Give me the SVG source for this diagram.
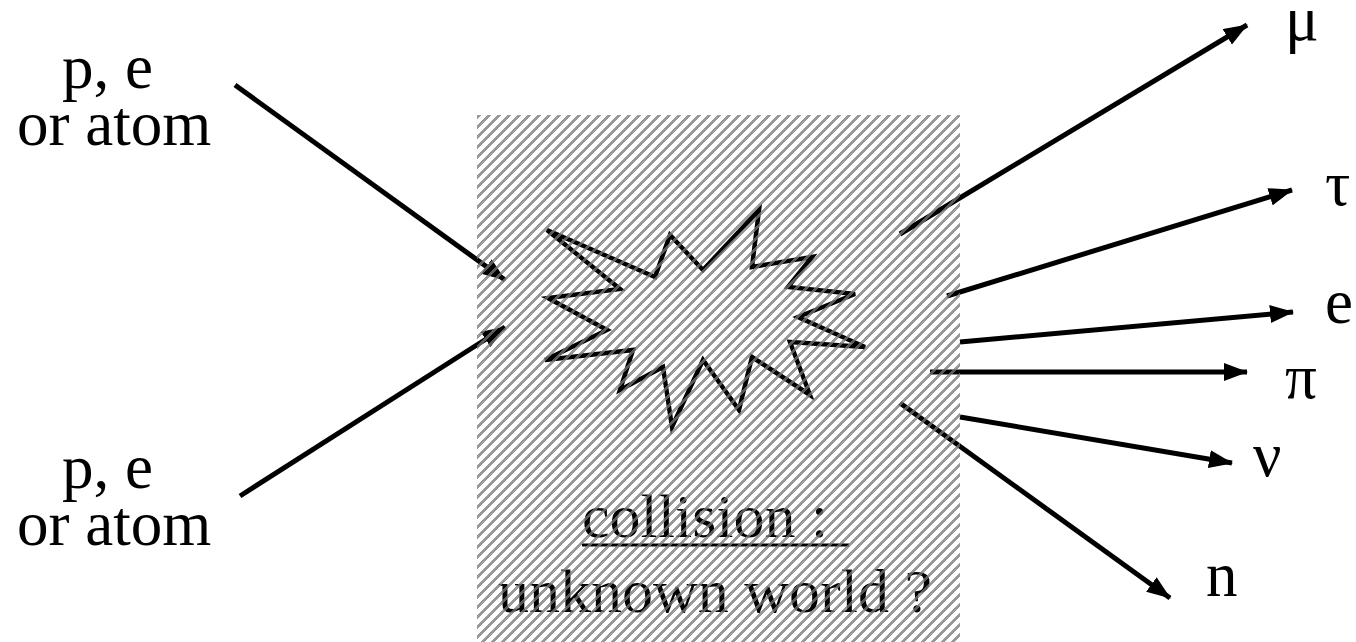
<svg xmlns="http://www.w3.org/2000/svg" width="1356" height="642" viewBox="0 0 1356 642">
  <style>
    .lbl { font-family: "Liberation Serif", "Times New Roman", serif; font-size: 63px; fill: #000; }
    .mid { font-family: "Liberation Serif", "Times New Roman", serif; font-size: 62px; fill: #000; }
    .conn { stroke: #000; stroke-width: 5; fill: none; marker-end: url(#arrow); }
  </style>
  <defs>
    <marker id="arrow" markerUnits="userSpaceOnUse" markerWidth="24" markerHeight="18" refX="23" refY="9" orient="auto" viewBox="0 0 24 18">
      <path d="M0,0 L24,9 L0,18 Z" fill="#000"/>
    </marker>
    <pattern id="hatch" patternUnits="userSpaceOnUse" x="477" y="115" width="10" height="10">
      <polygon points="0,0 4.5,0 0,4.5" fill="#777" fill-opacity="0.75" shape-rendering="crispEdges"/>
      <polygon points="10,0 10,4.5 4.5,10 0,10" fill="#777" fill-opacity="0.75" shape-rendering="crispEdges"/>
    </pattern>
  </defs>
  <rect width="1356" height="642" fill="#fff"/>

  <g id="collision">
    <polygon points="547,230 655,277 670,235 703,270 759,210 752,267 812,257 788,287 855,294 798,317 865,347 790,342 810,395 752,357 739,410 703,360 672,427 663,367 620,390 633,350 545,360 607,330 548,298 620,289" fill="none" stroke="#000" stroke-width="4.5" stroke-linejoin="miter"/>
    <text class="mid" x="582" y="537">collision :</text>
    <line x1="582" y1="545" x2="849" y2="545" stroke="#000" stroke-width="3"/>
    <text class="mid" x="498" y="612">unknown world ?</text>
  </g>

  <g id="connectors">
    <line class="conn" x1="235" y1="85" x2="505" y2="280"/>
    <line class="conn" x1="240" y1="496" x2="505" y2="327"/>
    <line class="conn" x1="900" y1="234" x2="1247" y2="25"/>
    <line class="conn" x1="947" y1="296" x2="1292" y2="190"/>
    <line class="conn" x1="960" y1="342" x2="1293" y2="312"/>
    <line class="conn" x1="930" y1="372" x2="1247" y2="372"/>
    <line class="conn" x1="960" y1="417" x2="1232" y2="463"/>
    <line class="conn" x1="900" y1="403" x2="1170" y2="598"/>
  </g>

  <g id="hatch-box">
    <rect x="477" y="115" width="483" height="527" fill="url(#hatch)"/>
  </g>

  <g id="source-top">
    <text class="lbl" x="62" y="88">p, e</text>
    <text class="lbl" x="17" y="145">or atom</text>
  </g>
  <g id="source-bottom">
    <text class="lbl" x="62" y="488">p, e</text>
    <text class="lbl" x="17" y="545">or atom</text>
  </g>

  <g id="out-mu"><text class="lbl" x="1285" y="40">μ</text></g>
  <g id="out-tau"><text class="lbl" x="1325" y="205">τ</text></g>
  <g id="out-e"><text class="lbl" x="1325" y="323">e</text></g>
  <g id="out-pi"><text class="lbl" x="1285" y="398">π</text></g>
  <g id="out-nu"><text class="lbl" x="1253" y="476">ν</text></g>
  <g id="out-n"><text class="lbl" x="1206" y="596">n</text></g>
</svg>
